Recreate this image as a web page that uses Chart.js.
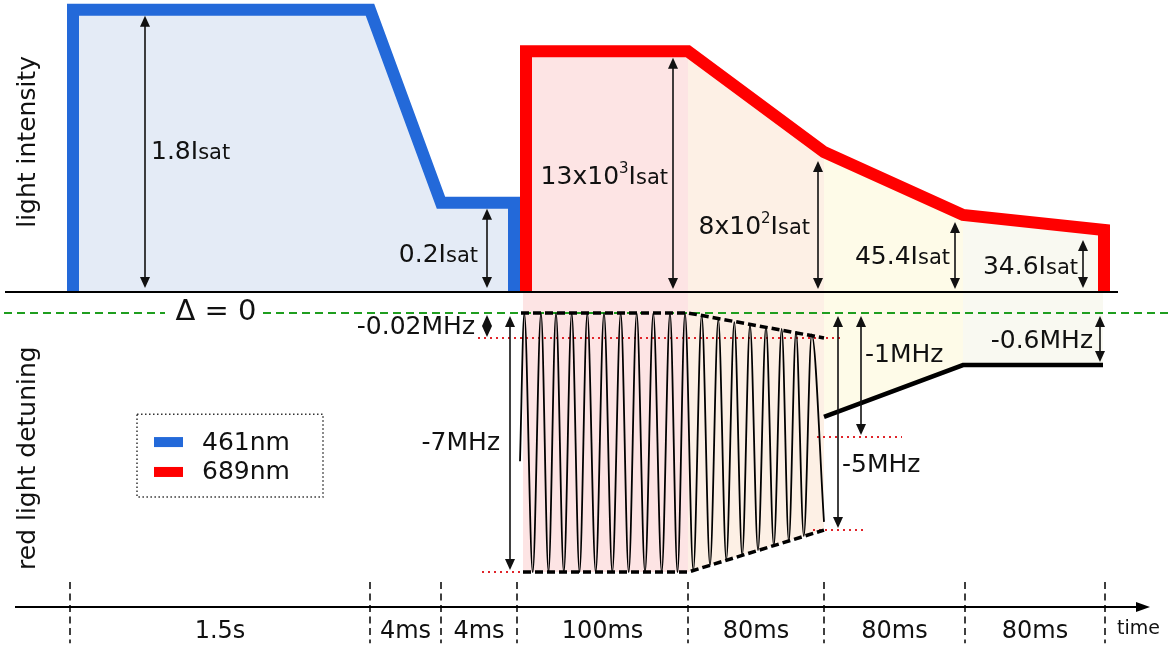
<!DOCTYPE html>
<html>
<head>
<meta charset="utf-8">
<title>Cooling sequence</title>
<script src="https://cdn.jsdelivr.net/npm/chart.js@4.4.1/dist/chart.umd.min.js"></script>
<style>
  html, body { margin: 0; padding: 0; background: #fff; }
  #wrap { width: 1171px; height: 648px; }
</style>
</head>
<body>
<div id="wrap"><canvas id="seq" width="1171" height="648"></canvas></div>
<script>
// time segments, drawn with schematic widths (not to scale)
const segmentLabels = ['1.5s', '4ms', '4ms', '100ms', '80ms', '80ms', '80ms'];
const segmentEdges = [0, 30, 37.1, 44.7, 61.8, 75.4, 89.5, 103.5];

// 461nm intensity, schematic level
const blueX = [0.3, 0.3, 30, 37.1, 44.4, 44.4];
const blueLevel = [0, 100, 100, 31.6, 31.6, 0];

// 689nm intensity, schematic level
const redX = [45.6, 45.6, 61.8, 75.4, 89.3, 103.4, 103.4];
const redLevel = [0, 85.3, 85.3, 49.6, 27.3, 22.0, 0];

// red detuning, drawn below the baseline
const zeroLevel = -7.45;
const envTopX = [45.1, 61.8, 75.4];
const envTopLevel = [-7.45, -7.45, -16.3];
const envBotX = [45.3, 61.8, 75.4];
const envBotLevel = [-99.3, -99.3, -84.4];
const rampX = [75.4, 89.3, 103.3];
const rampLevel = [-44.3, -25.9, -25.9];

// turning points of the modulated (broadened) red light
const chirpX = [45.0, 45.43, 46.27, 47.10, 47.85, 48.60, 49.38, 50.17, 50.95, 51.73, 52.57,
  53.40, 54.23, 55.07, 55.87, 56.67, 57.50, 58.33, 59.17, 60.00, 60.75, 61.50,
  62.33, 63.17, 64.00, 64.83, 65.63, 66.43, 67.22, 68.00, 68.80, 69.60, 70.38,
  71.17, 71.88, 72.60, 73.38, 74.17, 75.40];
const chirpLevel = [-60, -7.5, -99.3, -7.5, -99.3, -7.5, -99.3, -7.5, -99.3, -7.5, -99.3,
  -7.5, -99.3, -7.5, -99.3, -7.5, -99.3, -7.5, -99.3, -7.5, -99.3, -7.5,
  -98.7, -8.2, -96.8, -9.7, -95.0, -10.7, -93.3, -11.7, -91.5, -12.3, -89.9,
  -13.1, -88.3, -14.1, -86.5, -15.0, -81.5];

// red dotted guide lines for the detuning values
const guideLevels = [-16.3, -99.3, -51.4, -84.4];
const guideFrom = [40.8, 41.2, 74.7, 74.3];
const guideTo = [77.3, 46.0, 83.2, 79.3];

const pts = (xs, ys) => xs.map((x, i) => ({ x, y: ys[i] }));

const redPts = pts(redX, redLevel);
const envBotPts = pts(envBotX, envBotLevel);
const rampPts = pts(rampX, rampLevel);

const fillColors = ['rgb(253,228,228)', 'rgb(253,240,229)', 'rgb(254,251,232)', 'rgb(249,249,241)'];
const fillShapes = [
  [redPts.slice(1, 3), envBotPts.slice(0, 2)],
  [redPts.slice(2, 4), envBotPts.slice(1, 3)],
  [redPts.slice(3, 5), rampPts.slice(0, 2)],
  [redPts.slice(4, 6), rampPts.slice(1, 3)]
];

const guidePts = [];
guideLevels.forEach((lv, i) => {
  guidePts.push({ x: guideFrom[i], y: lv }, { x: guideTo[i], y: lv }, { x: guideTo[i] + 0.01, y: null });
});

const datasets = [];
fillShapes.forEach(([up, low], i) => {
  [up, low].forEach(d => datasets.push({
    data: d, fill: 'origin', backgroundColor: fillColors[i],
    borderColor: 'rgba(0,0,0,0)', borderWidth: 0, order: 20
  }));
});

datasets.push(
  {
    // zero detuning, broken where the label sits
    data: [{ x: -6.6, y: zeroLevel }, { x: 9.5, y: zeroLevel }, { x: 14.4, y: null },
           { x: 19.3, y: zeroLevel }, { x: 110.1, y: zeroLevel }],
    borderColor: '#1f9e1f', borderWidth: 2, borderDash: [8, 5], spanGaps: false, order: 15
  },
  { data: guidePts, borderColor: '#e0242a', borderWidth: 2, borderDash: [2, 4], spanGaps: false, order: 14 },
  {
    data: pts(chirpX, chirpLevel), borderColor: '#000', borderWidth: 1.8,
    cubicInterpolationMode: 'monotone', order: 12
  },
  { data: pts(envTopX, envTopLevel), borderColor: '#000', borderWidth: 3.5, borderDash: [8, 4], order: 11 },
  { data: envBotPts, borderColor: '#000', borderWidth: 3.5, borderDash: [8, 4], order: 11 },
  { data: rampPts, borderColor: '#000', borderWidth: 4.5, order: 10 },
  {
    label: '461nm', data: pts(blueX, blueLevel), borderColor: '#2369d9', borderWidth: 12,
    fill: 'origin', backgroundColor: '#e4ebf6', borderJoinStyle: 'miter', order: 6
  },
  {
    label: '689nm', data: redPts, borderColor: '#ff0000', borderWidth: 12,
    fill: false, borderJoinStyle: 'miter', order: 6
  },
  { data: [{ x: -6.5, y: 0 }, { x: 104.8, y: 0 }], borderColor: '#000', borderWidth: 2, order: 5 }
);

// double arrows with their value labels
const notes = [
  { x: 7.5, from: 0, to: blueLevel[1], gaps: [4, 6], label: [['1.8I', 'main'], ['sat', 'sub']], at: 50.4, dx: 6 },
  { x: 41.7, from: 0, to: blueLevel[3], gaps: [4, 6], label: [['0.2I', 'main'], ['sat', 'sub']], at: 13.8, dx: -9 },
  { x: 60.3, from: 0, to: redLevel[2], gaps: [3, 6.5], label: [['13x10', 'main'], ['3', 'sup'], ['I', 'main'], ['sat', 'sub']], at: 41.5, dx: -5 },
  { x: 74.8, from: 0, to: redLevel[3], gaps: [3, 9], label: [['8x10', 'main'], ['2', 'sup'], ['I', 'main'], ['sat', 'sub']], at: 23.8, dx: -8 },
  { x: 88.5, from: 0, to: redLevel[4], gaps: [3, 7], label: [['45.4I', 'main'], ['sat', 'sub']], at: 13.1, dx: -5 },
  { x: 101.3, from: 0, to: redLevel[5], gaps: [4, 10], label: [['34.6I', 'main'], ['sat', 'sub']], at: 9.6, dx: -5 },
  { x: 41.7, from: zeroLevel, to: guideLevels[0], gaps: [2, 1], label: [['-0.02MHz', 'main']], at: -11.7, dx: -12 },
  { x: 44.0, from: zeroLevel, to: envBotLevel[0], gaps: [3, 2], label: [['-7MHz', 'main']], at: -52.8, dx: -10 },
  { x: 76.8, from: zeroLevel, to: envBotLevel[2], gaps: [3, 2], label: [['-5MHz', 'main']], at: -60.6, dx: 4 },
  { x: 79.1, from: zeroLevel, to: guideLevels[2], gaps: [3, 2], label: [['-1MHz', 'main']], at: -21.6, dx: 4 },
  { x: 103.0, from: zeroLevel, to: rampLevel[2], gaps: [3, 3], label: [['-0.6MHz', 'main']], at: -16.7, dx: -7 }
];

const FONT = '"DejaVu Sans", Verdana, sans-serif';
const sizes = { main: 25, sub: 21, sup: 15 };
const INK = '#111';

function drawRich(ctx, parts, x, yMid, align) {
  let total = 0;
  const widths = parts.map(p => {
    ctx.font = sizes[p[1]] + 'px ' + FONT;
    const w = ctx.measureText(p[0]).width;
    total += w;
    return w;
  });
  let cx = align === 'right' ? x - total : x;
  const base = yMid + 9;
  ctx.textBaseline = 'alphabetic';
  ctx.textAlign = 'left';
  parts.forEach((p, i) => {
    ctx.font = sizes[p[1]] + 'px ' + FONT;
    ctx.fillText(p[0], cx, p[1] === 'sup' ? base - 11 : base);
    cx += widths[i];
  });
}

function head(ctx, x, y, dir) {
  // tip at (x, y); dir = -1 points up, +1 points down
  ctx.beginPath();
  ctx.moveTo(x, y);
  ctx.lineTo(x - 5, y - dir * 11);
  ctx.lineTo(x + 5, y - dir * 11);
  ctx.closePath();
  ctx.fill();
}

const sketchLayer = {
  id: 'sketchLayer',
  afterDatasetsDraw(chart) {
    const { ctx, scales: { x: xs, y: ys } } = chart;
    const X = v => xs.getPixelForValue(v);
    const Y = v => ys.getPixelForValue(v);
    ctx.save();

    // arrows and labels
    ctx.fillStyle = INK;
    ctx.strokeStyle = INK;
    notes.forEach(n => {
      const px = X(n.x);
      const p1 = Y(n.from), p2 = Y(n.to);
      const dir = Math.sign(p2 - p1);
      const t1 = p1 + dir * n.gaps[0], t2 = p2 - dir * n.gaps[1];
      ctx.lineWidth = 1.6;
      ctx.beginPath();
      ctx.moveTo(px, t1 + dir * 8);
      ctx.lineTo(px, t2 - dir * 8);
      ctx.stroke();
      head(ctx, px, t1, -dir);
      head(ctx, px, t2, dir);
      drawRich(ctx, n.label, px + n.dx, Y(n.at), n.dx < 0 ? 'right' : 'left');
    });

    // zero detuning label
    ctx.font = '29px ' + FONT;
    ctx.textAlign = 'center';
    ctx.textBaseline = 'middle';
    ctx.fillText('\u0394 = 0', X(14.6), Y(zeroLevel) - 1);

    // side titles
    ctx.font = '25px ' + FONT;
    [['light intensity', 53.2], ['red light detuning', -58.9]].forEach(([t, lv]) => {
      ctx.save();
      ctx.translate(28, Y(lv));
      ctx.rotate(-Math.PI / 2);
      ctx.fillText(t, 0, 0);
      ctx.restore();
    });

    // legend box
    const lx0 = X(6.7), lx1 = X(25.3), ly0 = Y(-43.3), ly1 = Y(-72.7);
    ctx.lineWidth = 1.5;
    ctx.setLineDash([1.5, 2.5]);
    ctx.strokeStyle = '#333';
    ctx.strokeRect(lx0, ly0, lx1 - lx0, ly1 - ly0);
    ctx.setLineDash([]);
    const legendRows = [[chart.data.datasets.find(d => d.label === '461nm'), -53.2],
                        [chart.data.datasets.find(d => d.label === '689nm'), -63.8]];
    legendRows.forEach(([ds, lv]) => {
      ctx.fillStyle = ds.borderColor;
      ctx.fillRect(X(8.4), Y(lv) - 5, X(11.3) - X(8.4), 10);
      ctx.fillStyle = INK;
      ctx.font = '25px ' + FONT;
      ctx.textAlign = 'left';
      ctx.textBaseline = 'middle';
      ctx.fillText(ds.label, X(13.2), Y(lv) + 1);
    });

    // time axis
    const axisY = Y(-111.7);
    ctx.strokeStyle = '#000';
    ctx.fillStyle = '#000';
    ctx.lineWidth = 2;
    ctx.beginPath();
    ctx.moveTo(X(-5.5), axisY);
    ctx.lineTo(X(107.2), axisY);
    ctx.stroke();
    ctx.beginPath();
    ctx.moveTo(X(108.0), axisY);
    ctx.lineTo(X(106.6), axisY - 5);
    ctx.lineTo(X(106.6), axisY + 5);
    ctx.closePath();
    ctx.fill();

    ctx.lineWidth = 1.5;
    ctx.setLineDash([7, 4.5]);
    segmentEdges.forEach(e => {
      ctx.beginPath();
      ctx.moveTo(X(e), Y(-102.8));
      ctx.lineTo(X(e), Y(-124.5));
      ctx.stroke();
    });
    ctx.setLineDash([]);

    ctx.fillStyle = INK;
    ctx.font = '24px ' + FONT;
    ctx.textAlign = 'center';
    ctx.textBaseline = 'middle';
    segmentLabels.forEach((t, i) => {
      ctx.fillText(t, (X(segmentEdges[i]) + X(segmentEdges[i + 1])) / 2, Y(-120.6));
    });
    ctx.font = '19px ' + FONT;
    ctx.textAlign = 'left';
    ctx.fillText('time', X(104.7), Y(-119.6));

    ctx.restore();
  }
};

new Chart(document.getElementById('seq'), {
  type: 'line',
  data: { datasets },
  options: {
    responsive: false,
    devicePixelRatio: 1,
    animation: false,
    layout: { padding: 0 },
    elements: { point: { radius: 0, hoverRadius: 0 }, line: { tension: 0 } },
    scales: {
      x: { type: 'linear', min: -7, max: 110.1, display: false },
      y: { type: 'linear', min: -126.2, max: 103.5, display: false }
    },
    plugins: { legend: { display: false }, tooltip: { enabled: false } },
    events: []
  },
  plugins: [sketchLayer]
});
</script>
</body>
</html>
